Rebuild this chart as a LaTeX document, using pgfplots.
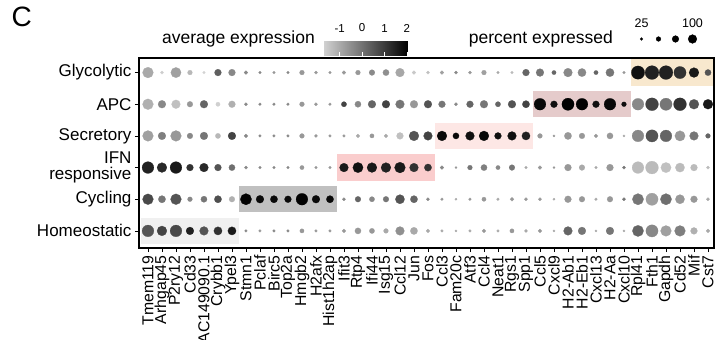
\documentclass[border=0pt]{standalone}
\usepackage{pgfplots}
\pgfplotsset{compat=1.18}
\usepackage{pgfplotstable}
\usepackage{fontspec}
\setmainfont{Liberation Sans}

\definecolor{boxGly}{RGB}{248,232,206}
\definecolor{boxAPC}{RGB}{229,203,203}
\definecolor{boxSec}{RGB}{253,231,229}
\definecolor{boxIFN}{RGB}{250,205,205}
\definecolor{boxCyc}{RGB}{192,192,192}
\definecolor{boxHom}{RGB}{240,240,240}

% columns: x = gene index, y = cluster row, pct = percent expressed, avg = average expression (scaled)
\pgfplotstableread{
x y pct avg
0 6 75 -1.00
1 6 12 -1.65
2 6 71 -0.83
3 6 25 -1.26
4 6 8 -1.75
5 6 42 0.32
6 6 42 -0.40
7 6 17 -0.40
8 6 8 -0.40
9 6 8 -0.70
10 6 8 -0.40
11 6 25 -0.70
12 6 12 -0.70
13 6 8 -0.70
14 6 17 -0.70
15 6 25 -0.70
16 6 33 -0.45
17 6 37 -0.54
18 6 58 -0.97
19 6 17 -1.55
20 6 12 -1.41
21 6 17 -0.83
22 6 12 -0.40
23 6 12 -0.70
24 6 25 -0.83
25 6 8 -1.00
26 6 8 -1.32
27 6 42 0.21
28 6 50 -0.09
29 6 21 0.20
30 6 58 -0.40
31 6 54 -0.40
32 6 21 0.21
33 6 54 -0.09
34 6 8 -0.70
35 6 96 1.74
36 6 100 1.44
37 6 100 1.44
38 6 87 1.13
39 6 67 1.58
40 6 37 0.52
}\tabGly

\pgfplotstableread{
x y pct avg
0 5 75 -1.12
1 5 50 -0.40
2 5 58 -1.41
3 5 33 -0.70
4 5 50 0.21
5 5 21 -1.69
6 5 42 -1.12
7 5 12 -0.40
8 5 8 -0.40
9 5 8 -0.40
10 5 8 -0.40
11 5 25 -0.70
12 5 12 -0.70
13 5 8 -0.70
14 5 29 0.83
15 5 37 -0.40
16 5 50 0.21
17 5 50 0.83
18 5 58 -0.09
19 5 50 -0.70
20 5 50 0.52
21 5 42 -0.09
22 5 12 -0.40
23 5 42 0.21
24 5 50 -0.09
25 5 29 0.21
26 5 50 0.52
27 5 46 0.83
28 5 83 1.87
29 5 42 1.74
30 5 87 2.00
31 5 83 2.00
32 5 42 1.74
33 5 83 1.87
34 5 25 1.74
35 5 83 -0.40
36 5 92 0.83
37 5 87 -0.09
38 5 92 1.13
39 5 67 0.52
40 5 67 1.58
}\tabAPC

\pgfplotstableread{
x y pct avg
0 4 75 -0.83
1 4 50 -0.25
2 4 75 -0.70
3 4 33 -0.40
4 4 50 -0.09
5 4 29 -1.26
6 4 50 0.83
7 4 17 -0.40
8 4 8 -0.40
9 4 8 -0.40
10 4 8 -0.40
11 4 25 -0.70
12 4 12 -0.70
13 4 8 -0.70
14 4 8 -0.70
15 4 17 -1.00
16 4 21 -0.70
17 4 17 -1.00
18 4 42 -1.41
19 4 67 0.52
20 4 58 0.83
21 4 67 1.87
22 4 37 1.87
23 4 58 1.74
24 4 67 1.87
25 4 42 1.74
26 4 58 1.74
27 4 54 1.44
28 4 25 -0.70
29 4 4 -0.70
30 4 46 -0.70
31 4 33 -0.70
32 4 17 -0.70
33 4 37 -0.70
34 4 4 -1.00
35 4 83 -0.40
36 4 87 0.52
37 4 83 0.21
38 4 71 -0.70
39 4 58 -0.09
40 4 25 0.21
}\tabSec

\pgfplotstableread{
x y pct avg
0 3 83 1.44
1 3 67 1.29
2 3 83 1.58
3 3 42 1.13
4 3 58 1.29
5 3 42 0.52
6 3 37 0.03
7 3 12 -0.40
8 3 8 -0.40
9 3 8 -0.40
10 3 8 -0.40
11 3 21 -0.70
12 3 8 -0.70
13 3 8 -0.70
14 3 58 1.58
15 3 71 1.74
16 3 67 1.58
17 3 67 1.44
18 3 75 1.58
19 3 58 1.13
20 3 46 1.13
21 3 17 -0.40
22 3 4 -0.70
23 3 25 -0.09
24 3 37 -0.25
25 3 21 -0.40
26 3 33 -0.09
27 3 8 -1.00
28 3 17 -0.70
29 3 4 -0.70
30 3 42 -0.70
31 3 33 -1.00
32 3 8 -1.00
33 3 42 -0.70
34 3 12 -0.09
35 3 83 -1.32
36 3 92 -1.32
37 3 71 -1.41
38 3 62 -1.32
39 3 42 -1.32
40 3 12 -1.32
}\tabIFN

\pgfplotstableread{
x y pct avg
0 2 75 0.72
1 2 46 -0.09
2 2 75 0.52
3 2 25 -0.40
4 2 37 -0.09
5 2 46 0.61
6 2 33 -1.12
7 2 79 2.00
8 2 50 1.87
9 2 46 1.87
10 2 42 1.87
11 2 83 2.00
12 2 50 1.87
13 2 46 1.87
14 2 12 -0.40
15 2 33 0.21
16 2 29 -0.40
17 2 33 -0.09
18 2 62 0.52
19 2 46 0.21
20 2 12 -0.40
21 2 8 -0.70
22 2 4 -1.00
23 2 8 -0.70
24 2 21 -0.70
25 2 8 -1.00
26 2 17 -0.70
27 2 12 -0.70
28 2 12 -0.70
29 2 4 -1.00
30 2 42 -0.70
31 2 33 -0.70
32 2 8 -1.00
33 2 33 -0.70
34 2 12 -0.09
35 2 79 -0.09
36 2 87 -0.83
37 2 79 0.03
38 2 62 -0.70
39 2 42 -0.70
40 2 12 -1.00
}\tabCyc

\pgfplotstableread{
x y pct avg
0 1 83 0.52
1 1 67 0.83
2 1 83 0.72
3 1 50 1.44
4 1 58 0.52
5 1 54 1.13
6 1 54 1.58
7 1 8 -0.40
8 1 8 -0.70
9 1 8 -0.40
10 1 8 -0.40
11 1 21 -0.70
12 1 8 -0.70
13 1 8 -0.70
14 1 17 -0.70
15 1 37 -0.70
16 1 29 -0.70
17 1 25 -1.00
18 1 58 -0.55
19 1 46 -1.00
20 1 17 -1.00
21 1 8 -1.00
22 1 4 -1.00
23 1 8 -1.00
24 1 17 -0.70
25 1 8 -1.00
26 1 21 -0.70
27 1 12 -1.00
28 1 17 -0.70
29 1 4 -1.00
30 1 58 0.21
31 1 50 -0.09
32 1 4 -1.00
33 1 50 -0.09
34 1 4 -1.00
35 1 79 0.21
36 1 87 -0.40
37 1 75 -0.83
38 1 75 -0.25
39 1 42 -1.12
40 1 17 -1.00
}\tabHom

\pgfplotsset{
  dots/.style={scatter, only marks, mark=*,
    point meta=\thisrow{avg},
    scatter/use mapped color={draw=mapped color, fill=mapped color, line width=0.2pt},
    visualization depends on={0.9+0.06*\thisrow{pct} \as \perpointmarksize},
    scatter/@pre marker code/.append style={/tikz/mark size=\perpointmarksize}},
  cbox/.style={draw=none, fill=#1, mark=none, forget plot},
}

\begin{document}
\begin{tikzpicture}
\useasboundingbox (0,0) rectangle (718pt,-340pt);

\node[anchor=base west, inner sep=0, font=\fontsize{28}{28}\selectfont] at (11.5pt,-26.7pt) {C};
\node[anchor=base east, inner sep=0, font=\fontsize{17.5}{17.5}\selectfont] at (315pt,-43.5pt) {average expression};
\node[anchor=base east, inner sep=0, font=\fontsize{17.5}{17.5}\selectfont] at (613pt,-43.5pt) {percent expressed};

\begin{axis}[
  at={(139pt,-248pt)}, anchor=south west,
  width=575pt, height=190pt, scale only axis,
  xmin=-0.64, xmax=40.43, ymin=0.46, ymax=6.46,
  axis on top,
  axis line style={line width=1.1pt},
  xtick={0,...,40},
  xticklabels={Tmem119,Arhgap45,P2ry12,Cd33,AC149090.1,Crybb1,Ypel3,Stmn1,Pclaf,Birc5,Top2a,Hmgb2,H2afx,Hist1h2ap,Ifit3,Rtp4,Ifi44,Isg15,Ccl12,Jun,Fos,Ccl3,Fam20c,Atf3,Ccl4,Neat1,Rgs1,Spp1,Ccl5,Cxcl9,H2-Ab1,H2-Eb1,Cxcl13,H2-Aa,Cxcl10,Rpl41,Fth1,Gapdh,Cd52,Mif,Cst7},
  xticklabel style={rotate=90, anchor=east, font=\fontsize{15.8}{15.8}\selectfont},
  ytick={1,...,6},
  yticklabels={Homeostatic,Cycling,{IFN\\responsive},Secretory,APC,Glycolytic},
  yticklabel style={align=right, font=\fontsize{17}{16}\selectfont},
  tick align=outside, xtick pos=bottom, ytick pos=left,
  major tick length=4pt, tick style={line width=0.8pt, black},
  colormap={lg}{rgb255=(211,211,211) rgb255=(0,0,0)},
  point meta min=-1.75, point meta max=2.05,
  colorbar horizontal,
  colorbar style={
    at={(parent axis.north west)}, anchor=south west, xshift=184pt, yshift=11pt,
    width=85pt, height=20pt, scale only axis,
    xtick={-1,0,1,2}, xticklabels={-1,0,1,2},
    xticklabel pos=upper, xtick pos=both,
    tick align=inside, major tick length=4pt,
    xtick style={draw=white, line width=0.7pt},
    axis line style={draw=none},
    xticklabel style={font=\fontsize{11.5}{11.5}\selectfont},
    ytick=\empty,
  },
]
\addplot[cbox=boxHom] coordinates {(-0.5,0.585) (6.5,0.585) (6.5,1.415) (-0.5,1.415)};
\addplot[cbox=boxCyc] coordinates {(6.5,1.585) (13.5,1.585) (13.5,2.415) (6.5,2.415)};
\addplot[cbox=boxIFN] coordinates {(13.5,2.585) (20.5,2.585) (20.5,3.415) (13.5,3.415)};
\addplot[cbox=boxSec] coordinates {(20.5,3.585) (27.5,3.585) (27.5,4.415) (20.5,4.415)};
\addplot[cbox=boxAPC] coordinates {(27.5,4.585) (34.5,4.585) (34.5,5.415) (27.5,5.415)};
\addplot[cbox=boxGly] coordinates {(34.5,5.585) (40.6,5.585) (40.6,6.415) (34.5,6.415)};

\addplot[dots] table[x=x, y=y] \tabGly;
\addplot[dots] table[x=x, y=y] \tabAPC;
\addplot[dots] table[x=x, y=y] \tabSec;
\addplot[dots] table[x=x, y=y] \tabIFN;
\addplot[dots] table[x=x, y=y] \tabCyc;
\addplot[dots] table[x=x, y=y] \tabHom;

\draw[line width=2.4pt] (rel axis cs:0,1) -- (rel axis cs:0,0) -- (rel axis cs:1,0);
\end{axis}

\begin{axis}[
  at={(667pt,-39pt)}, anchor=center,
  width=68pt, height=10pt, scale only axis,
  xmin=-0.5, xmax=3.5, ymin=-1, ymax=1, clip=false,
  axis line style={draw=none}, ytick=\empty,
  xtick={0,3}, xticklabels={25,100}, xticklabel pos=upper,
  major tick length=0pt,
  xticklabel style={font=\fontsize{12.5}{12.5}\selectfont, yshift=3pt},
]
\addplot[scatter, only marks, mark=*, point meta=\thisrow{pct},
  scatter/use mapped color={draw=black, fill=black, line width=0.2pt},
  visualization depends on={0.4+0.04*\thisrow{pct} \as \perpointmarksize},
  scatter/@pre marker code/.append style={/tikz/mark size=\perpointmarksize}]
  table[row sep=\\] {x y pct\\ 0 0 25\\ 1 0 50\\ 2 0 75\\ 3 0 100\\};
\end{axis}
\end{tikzpicture}
\end{document}
